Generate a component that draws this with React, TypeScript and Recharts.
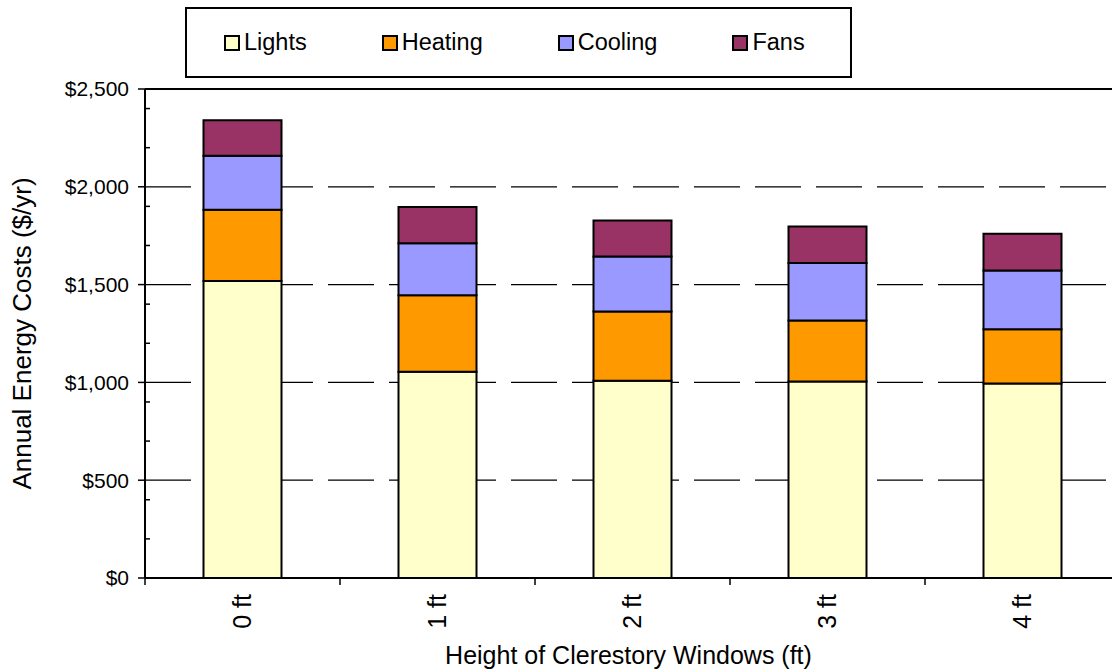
import React from "react";
import {
  BarChart,
  Bar,
  XAxis,
  YAxis,
  CartesianGrid,
  ReferenceLine,
} from "recharts";

// window heights on the x axis
const categories = ["0 ft", "1 ft", "2 ft", "3 ft", "4 ft"];

// annual cost per end use, $/yr (stacked bottom -> top)
const lights = [1519, 1055, 1009, 1004, 994];
const heating = [364, 391, 353, 312, 278];
const cooling = [276, 266, 282, 294, 300];
const fans = [181, 185, 184, 187, 188];

const yTicks = [0, 500, 1000, 1500, 2000, 2500];
const minorTicks = [
  100, 200, 300, 400, 600, 700, 800, 900, 1100, 1200, 1300, 1400, 1600, 1700,
  1800, 1900, 2100, 2200, 2300, 2400,
];

const series = [
  { key: "lights", name: "Lights", color: "#FFFFCC", values: lights },
  { key: "heating", name: "Heating", color: "#FF9900", values: heating },
  { key: "cooling", name: "Cooling", color: "#9999FF", values: cooling },
  { key: "fans", name: "Fans", color: "#993366", values: fans },
];

const data = categories.map((name, i) => {
  const row: Record<string, string | number> = { name };
  series.forEach((s) => {
    row[s.key] = s.values[i];
  });
  return row;
});

const FONT = "'Liberation Sans', Arial, sans-serif";
const X_TICK_MARGIN = 16;

const fmtDollar = (v: number) => `$${v.toLocaleString("en-US")}`;

// rotated category label hanging below the axis, plus the
// excel-style tick marks on the category boundaries
const XTick = (props: any) => {
  const { x, y, payload, index, visibleTicksCount } = props;
  const half = payload.offset || 0;
  const axisY = y - X_TICK_MARGIN;
  const last = index === visibleTicksCount - 1;
  return (
    <g>
      <line
        x1={x - half}
        x2={x - half}
        y1={axisY}
        y2={axisY + 7}
        stroke="#000"
        strokeWidth={1.5}
      />
      {last && (
        <line
          x1={x + half}
          x2={x + half}
          y1={axisY}
          y2={axisY + 7}
          stroke="#000"
          strokeWidth={1.5}
        />
      )}
      <text
        x={x}
        y={y}
        transform={`rotate(-90, ${x}, ${y})`}
        textAnchor="end"
        dy="0.35em"
        fontSize={25}
        fontFamily={FONT}
        fill="#000"
      >
        {payload.value}
      </text>
    </g>
  );
};

const NoLabel = () => <g />;

export default function App() {
  return (
    <div
      style={{
        position: "fixed",
        left: 0,
        top: 0,
        width: 1112,
        height: 670,
        overflow: "hidden",
        background: "#fff",
        fontFamily: FONT,
      }}
    >
      <BarChart
        width={1130}
        height={670}
        data={data}
        margin={{ top: 89, right: 10, bottom: 0, left: 0 }}
        barCategoryGap="30%"
      >
        <CartesianGrid
          vertical={false}
          stroke="#000"
          strokeWidth={1.3}
          strokeDasharray="46 15"
        />
        <XAxis
          dataKey="name"
          height={92}
          axisLine={{ stroke: "#000", strokeWidth: 2 }}
          tickLine={false}
          tickSize={0}
          tickMargin={X_TICK_MARGIN}
          tick={<XTick />}
          interval={0}
          label={{
            value: "Height of Clerestory Windows (ft)",
            position: "insideBottom",
            offset: 6,
            dx: -4,
            fontSize: 25,
            fontFamily: FONT,
            fill: "#000",
          }}
        />
        <YAxis
          width={145}
          domain={[0, 2500]}
          ticks={yTicks}
          tickFormatter={fmtDollar}
          axisLine={{ stroke: "#000", strokeWidth: 2 }}
          tickLine={{ stroke: "#000", strokeWidth: 1.5 }}
          tickSize={7}
          tickMargin={9}
          tick={{ fontSize: 21, fontFamily: FONT, fill: "#000" }}
          label={{
            value: "Annual Energy Costs ($/yr)",
            angle: -90,
            position: "insideLeft",
            offset: 22,
            style: { textAnchor: "middle" },
            fontSize: 26,
            fontFamily: FONT,
            fill: "#000",
          }}
        />
        {/* minor ticks pointing into the plot */}
        <YAxis
          yAxisId="minor"
          mirror
          type="number"
          domain={[0, 2500]}
          ticks={minorTicks}
          allowDataOverflow
          axisLine={false}
          tick={<NoLabel />}
          tickSize={5}
          tickLine={{ stroke: "#000", strokeWidth: 1.5 }}
        />
        <ReferenceLine y={2500} stroke="#000" strokeWidth={2} />
        {series.map((s) => (
          <Bar
            key={s.key}
            dataKey={s.key}
            name={s.name}
            stackId="cost"
            fill={s.color}
            stroke="#000"
            strokeWidth={2}
            isAnimationActive={false}
          />
        ))}
      </BarChart>

      {/* legend box */}
      <div
        style={{
          position: "absolute",
          left: 185,
          top: 7,
          width: 667,
          height: 71,
          boxSizing: "border-box",
          border: "2px solid #000",
          display: "flex",
          alignItems: "center",
          paddingLeft: 37,
          gap: 75,
          fontSize: 23.5,
          color: "#000",
        }}
      >
        {series.map((s) => (
          <div
            key={s.key}
            style={{ display: "flex", alignItems: "center", gap: 4 }}
          >
            <span
              style={{
                display: "inline-block",
                width: 12,
                height: 12,
                background: s.color,
                border: "2.5px solid #000",
              }}
            />
            <span>{s.name}</span>
          </div>
        ))}
      </div>
    </div>
  );
}
